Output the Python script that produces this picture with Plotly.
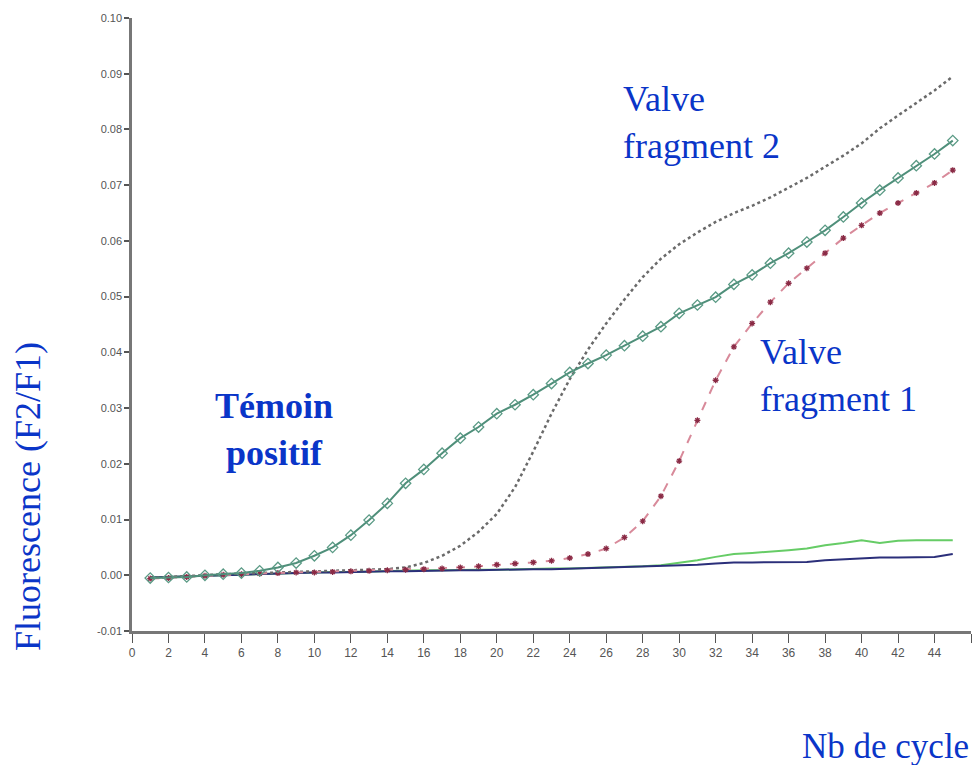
import plotly.graph_objects as go

cycles = list(range(1, 46))

temoin_positif = [-0.0005, -0.0004, -0.0003, 0.0, 0.0002, 0.0004, 0.0008, 0.0014, 0.0022, 0.0035,
                  0.0050, 0.0072, 0.0099, 0.0129, 0.0165, 0.0190, 0.0219, 0.0246, 0.0266, 0.0290,
                  0.0306, 0.0324, 0.0344, 0.0364, 0.0380, 0.0395, 0.0412, 0.0429, 0.0446, 0.0470,
                  0.0485, 0.0499, 0.0522, 0.0539, 0.0560, 0.0578, 0.0598, 0.0619, 0.0643, 0.0668,
                  0.0691, 0.0713, 0.0735, 0.0756, 0.0780]

valve_fragment_2 = [-0.0005, -0.0003, -0.0002, 0.0, 0.0002, 0.0003, 0.0004, 0.0005, 0.0006, 0.0007,
                    0.0008, 0.0009, 0.0010, 0.0011, 0.0014, 0.0022, 0.0035, 0.0053, 0.0078, 0.0110,
                    0.0158, 0.0222, 0.0290, 0.0352, 0.0405, 0.0452, 0.0495, 0.0535, 0.0568, 0.0594,
                    0.0615, 0.0634, 0.0650, 0.0663, 0.0678, 0.0695, 0.0713, 0.0733, 0.0753, 0.0775,
                    0.0802, 0.0825, 0.0847, 0.0870, 0.0895]

valve_fragment_1 = [-0.0006, -0.0005, -0.0003, -0.0001, 0.0001, 0.0002, 0.0003, 0.0004, 0.0005, 0.0005,
                    0.0006, 0.0007, 0.0008, 0.0009, 0.0010, 0.0011, 0.0012, 0.0014, 0.0016, 0.0019,
                    0.0021, 0.0023, 0.0026, 0.0031, 0.0038, 0.0048, 0.0068, 0.0097, 0.0142, 0.0205,
                    0.0278, 0.0350, 0.0410, 0.0452, 0.0490, 0.0524, 0.0551, 0.0578, 0.0605, 0.0628,
                    0.0650, 0.0668, 0.0686, 0.0704, 0.0727]

negatif_vert = [-0.0004, -0.0003, -0.0002, 0.0, 0.0001, 0.0002, 0.0003, 0.0004, 0.0005, 0.0005,
                0.0006, 0.0006, 0.0007, 0.0008, 0.0008, 0.0009, 0.0009, 0.0010, 0.0010, 0.0010,
                0.0011, 0.0011, 0.0012, 0.0012, 0.0013, 0.0013, 0.0014, 0.0016, 0.0018, 0.0022,
                0.0027, 0.0033, 0.0038, 0.0040, 0.0042, 0.0045, 0.0048, 0.0054, 0.0058, 0.0063,
                0.0058, 0.0062, 0.0063, 0.0063, 0.0063]

negatif_bleu = [-0.0004, -0.0003, -0.0002, 0.0, 0.0001, 0.0002, 0.0003, 0.0004, 0.0004, 0.0005,
                0.0005, 0.0006, 0.0006, 0.0007, 0.0007, 0.0008, 0.0008, 0.0009, 0.0009, 0.0010,
                0.0010, 0.0011, 0.0011, 0.0012, 0.0012, 0.0013, 0.0014, 0.0015, 0.0016, 0.0017,
                0.0019, 0.0021, 0.0023, 0.0023, 0.0023, 0.0023, 0.0024, 0.0027, 0.0029, 0.0030,
                0.0032, 0.0032, 0.0032, 0.0033, 0.0038]

y_ticks = [-0.01, 0.0, 0.01, 0.02, 0.03, 0.04, 0.05, 0.06, 0.07, 0.08, 0.09, 0.10]
y_tick_labels = ["-0.01", "0.00", "0.01", "0.02", "0.03", "0.04", "0.05", "0.06", "0.07", "0.08", "0.09", "0.10"]
x_ticks = list(range(0, 47, 2))

blue_text = "#0a35c8"
serif = "Liberation Serif, Times New Roman, serif"

W, H = 973, 765
ml, mr, mt, mb = 132, 2, 18, 134
pw, ph = W - ml - mr, H - mt - mb

fig = go.Figure()

fig.add_trace(go.Scatter(x=cycles, y=negatif_vert, mode="lines",
                         line=dict(color="#66cc66", width=2), showlegend=False))
fig.add_trace(go.Scatter(x=cycles, y=negatif_bleu, mode="lines",
                         line=dict(color="#2b2f7a", width=2), showlegend=False))
fig.add_trace(go.Scatter(x=cycles, y=valve_fragment_2, mode="lines",
                         line=dict(color="#6a6a6a", width=2.5, dash="dot"), showlegend=False))
fig.add_trace(go.Scatter(x=cycles, y=valve_fragment_1, mode="lines+markers",
                         line=dict(color="#d88a9a", width=2, dash="dash"),
                         marker=dict(symbol="asterisk-open", size=5, color="#8a2a45",
                                     line=dict(width=1.3, color="#8a2a45")),
                         showlegend=False))
fig.add_trace(go.Scatter(x=cycles, y=temoin_positif, mode="lines+markers",
                         line=dict(color="#4f8f7a", width=2),
                         marker=dict(symbol="diamond-open", size=8, color="#5a9a85",
                                     line=dict(width=1.3, color="#5a9a85")),
                         showlegend=False))

fig.add_annotation(x=26.8, y=0.0813, xref="x", yref="y", text="Valve<br>fragment 2",
                   showarrow=False, xanchor="left", yanchor="middle", align="left",
                   font=dict(family=serif, size=36, color=blue_text))
fig.add_annotation(x=34.3, y=0.0358, xref="x", yref="y", text="Valve<br>fragment 1",
                   showarrow=False, xanchor="left", yanchor="middle", align="left",
                   font=dict(family=serif, size=36, color=blue_text))
fig.add_annotation(x=7.8, y=0.0262, xref="x", yref="y", text="<b>Témoin<br>positif</b>",
                   showarrow=False, xanchor="center", yanchor="middle", align="center",
                   font=dict(family=serif, size=36, color=blue_text))
fig.add_annotation(x=(28 - ml) / pw, y=(H - mb - 497) / ph, xref="paper", yref="paper",
                   text="Fluorescence (F2/F1)",
                   showarrow=False, textangle=-90, xanchor="center", yanchor="middle",
                   font=dict(family=serif, size=36, color=blue_text))
fig.add_annotation(x=(971 - ml) / pw, y=(H - mb - 746) / ph, xref="paper", yref="paper",
                   text="Nb de cycle", showarrow=False, xanchor="right", yanchor="middle",
                   font=dict(family=serif, size=35, color=blue_text))

fig.update_layout(
    width=W, height=H,
    margin=dict(l=ml, r=mr, t=mt, b=mb),
    paper_bgcolor="white", plot_bgcolor="white",
    xaxis=dict(range=[0, 46], tickvals=x_ticks, ticks="outside", ticklen=9, tickwidth=1.2,
               tickcolor="#555", showline=True, linecolor="#777", linewidth=2.5,
               showgrid=False, zeroline=False,
               tickfont=dict(family="Liberation Sans, Arial, sans-serif", size=12, color="#555")),
    yaxis=dict(range=[-0.01, 0.10], tickvals=y_ticks, ticktext=y_tick_labels, ticks="outside",
               ticklen=5, tickwidth=1.5, tickcolor="#555", showline=True, linecolor="#777",
               linewidth=2.5, showgrid=False, zeroline=False,
               tickfont=dict(family="Liberation Sans, Arial, sans-serif", size=11, color="#555")),
)

fig.write_html("out.html", config={"displayModeBar": False},
               post_script="document.body.style.margin='0';document.body.style.overflow='hidden';")
